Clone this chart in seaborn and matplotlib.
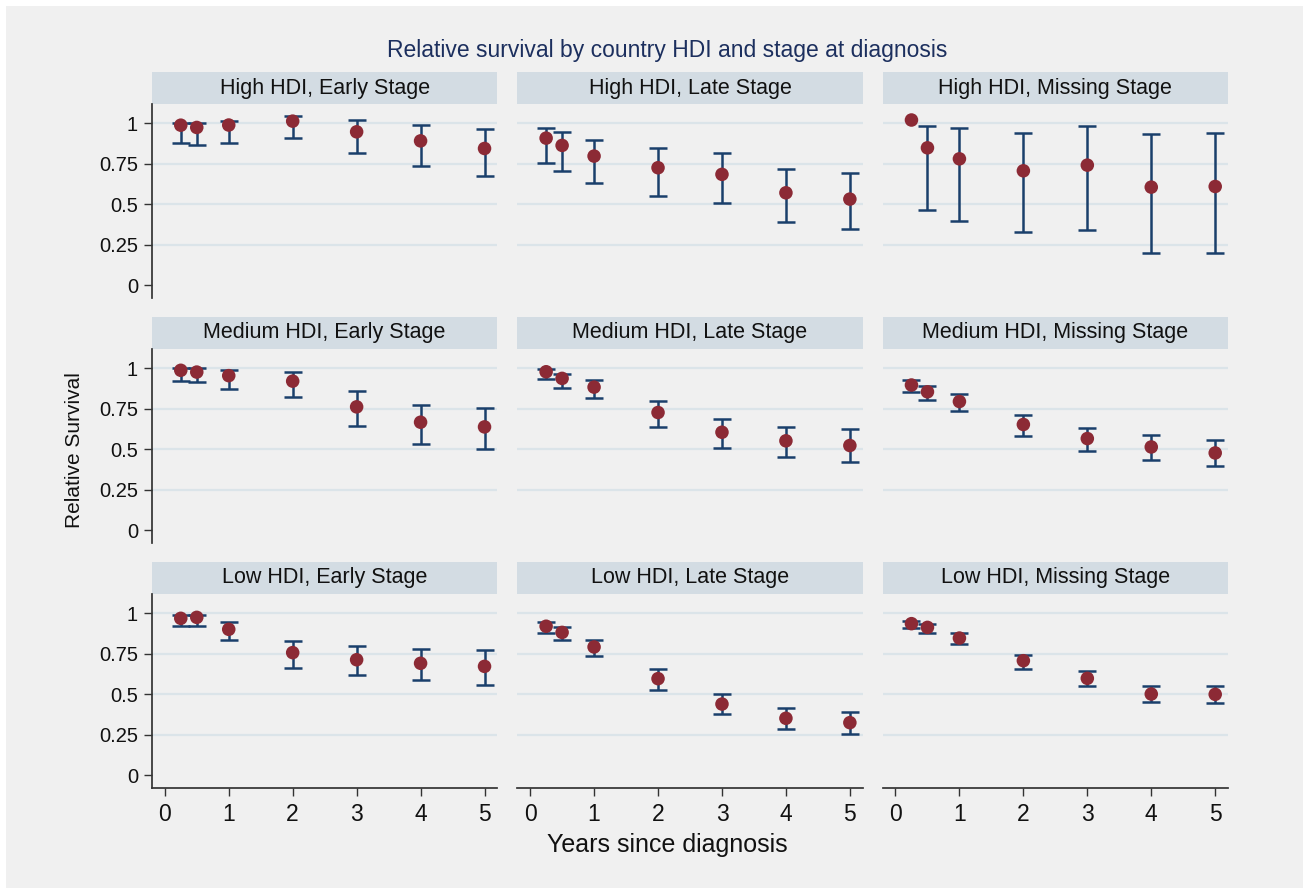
import numpy as np
import pandas as pd
import seaborn as sns
import matplotlib.pyplot as plt
from matplotlib.patches import Rectangle

# Years since diagnosis at which relative survival was estimated
years = [0.25, 0.5, 1, 2, 3, 4, 5]

hdi_levels = ['High', 'Medium', 'Low']
stages = ['Early', 'Late', 'Missing']

# Estimates and 95% CI
est_high_early = [0.989, 0.975, 0.990, 1.014, 0.948, 0.892, 0.845]
lo_high_early = [0.880, 0.867, 0.880, 0.907, 0.814, 0.737, 0.672]
hi_high_early = [1.000, 1.000, 1.016, 1.043, 1.020, 0.990, 0.966]

est_high_late = [0.909, 0.864, 0.798, 0.726, 0.685, 0.571, 0.532]
lo_high_late = [0.757, 0.707, 0.629, 0.553, 0.505, 0.390, 0.348]
hi_high_late = [0.969, 0.944, 0.897, 0.847, 0.814, 0.720, 0.695]

est_high_missing = [1.021, 0.849, 0.781, 0.707, 0.742, 0.606, 0.610]
lo_high_missing = [np.nan, 0.464, 0.398, 0.330, 0.344, 0.200, 0.200]
hi_high_missing = [np.nan, 0.984, 0.971, 0.940, 0.984, 0.934, 0.940]

est_medium_early = [0.988, 0.977, 0.955, 0.921, 0.762, 0.667, 0.638]
lo_medium_early = [0.921, 0.913, 0.874, 0.822, 0.643, 0.533, 0.500]
hi_medium_early = [1.000, 1.000, 0.992, 0.977, 0.857, 0.773, 0.756]

est_medium_late = [0.979, 0.938, 0.884, 0.727, 0.605, 0.552, 0.523]
lo_medium_late = [0.934, 0.878, 0.816, 0.640, 0.510, 0.452, 0.421]
hi_medium_late = [0.994, 0.965, 0.928, 0.798, 0.690, 0.640, 0.624]

est_medium_missing = [0.897, 0.855, 0.795, 0.653, 0.566, 0.514, 0.477]
lo_medium_missing = [0.851, 0.804, 0.736, 0.580, 0.490, 0.436, 0.395]
hi_medium_missing = [0.926, 0.890, 0.841, 0.711, 0.632, 0.589, 0.558]

est_low_early = [0.969, 0.975, 0.901, 0.757, 0.713, 0.691, 0.672]
lo_low_early = [0.922, 0.924, 0.833, 0.664, 0.616, 0.590, 0.557]
hi_low_early = [0.990, 0.990, 0.944, 0.829, 0.796, 0.777, 0.775]

est_low_late = [0.920, 0.882, 0.792, 0.596, 0.439, 0.351, 0.324]
lo_low_late = [0.876, 0.835, 0.736, 0.528, 0.375, 0.282, 0.256]
hi_low_late = [0.944, 0.915, 0.837, 0.656, 0.501, 0.412, 0.390]

est_low_missing = [0.936, 0.913, 0.847, 0.707, 0.598, 0.501, 0.499]
lo_low_missing = [0.907, 0.878, 0.808, 0.658, 0.551, 0.449, 0.445]
hi_low_missing = [0.953, 0.936, 0.878, 0.744, 0.643, 0.548, 0.548]

y_ticks = [0, 0.25, 0.5, 0.75, 1]
y_ticklabels = ['0', '0.25', '0.5', '0.75', '1']
x_ticks = [0, 1, 2, 3, 4, 5]

# Build one long table
series = {
    ('High', 'Early'): (est_high_early, lo_high_early, hi_high_early),
    ('High', 'Late'): (est_high_late, lo_high_late, hi_high_late),
    ('High', 'Missing'): (est_high_missing, lo_high_missing, hi_high_missing),
    ('Medium', 'Early'): (est_medium_early, lo_medium_early, hi_medium_early),
    ('Medium', 'Late'): (est_medium_late, lo_medium_late, hi_medium_late),
    ('Medium', 'Missing'): (est_medium_missing, lo_medium_missing, hi_medium_missing),
    ('Low', 'Early'): (est_low_early, lo_low_early, hi_low_early),
    ('Low', 'Late'): (est_low_late, lo_low_late, hi_low_late),
    ('Low', 'Missing'): (est_low_missing, lo_low_missing, hi_low_missing),
}
frames = []
for (hdi, stage), (est, lo, hi) in series.items():
    frames.append(pd.DataFrame({'HDI': hdi, 'Stage': stage, 'Years': years,
                                'RS': est, 'Lower': lo, 'Upper': hi}))
df = pd.concat(frames, ignore_index=True)

sns.set_theme(style='white')
plt.rcParams['font.family'] = ['Liberation Sans', 'DejaVu Sans']

bg = '#f0f0f0'
strip_color = '#d3dce3'
grid_color = '#dbe4e9'
navy = '#1a3f6b'
maroon = '#8c2a35'

fig, axes = plt.subplots(3, 3, figsize=(13.11, 8.91), dpi=100, sharex=True, sharey=True)
fig.patch.set_facecolor('white')
fig.patches.append(Rectangle((6 / 1311, 3 / 891), 1297 / 1311, 882 / 891,
                             transform=fig.transFigure, facecolor=bg,
                             edgecolor='none', zorder=-10))
fig.subplots_adjust(left=152 / 1311, right=1228 / 1311, top=1 - 104 / 891,
                    bottom=1 - 788 / 891, wspace=0.058, hspace=0.262)

strip_h = 32 / 194.5
for i, hdi in enumerate(hdi_levels):
    for j, stage in enumerate(stages):
        ax = axes[i, j]
        sub = df[(df['HDI'] == hdi) & (df['Stage'] == stage)]
        ax.set_facecolor(bg)
        for y in [0.25, 0.5, 0.75, 1]:
            ax.axhline(y, color=grid_color, lw=1.6, zorder=0)
        yerr = np.vstack([sub['RS'] - sub['Lower'], sub['Upper'] - sub['RS']])
        ax.errorbar(sub['Years'], sub['RS'], yerr=yerr, fmt='none',
                    ecolor=navy, elinewidth=1.8, capsize=6.5, capthick=1.8, zorder=2)
        sns.scatterplot(data=sub, x='Years', y='RS', ax=ax, color=maroon,
                        s=95, edgecolor='none', zorder=3, legend=False)
        ax.set_xlim(-0.2, 5.2)
        ax.set_ylim(-0.08, 1.12)
        ax.set_xticks(x_ticks)
        ax.set_yticks(y_ticks)
        ax.set_yticklabels(y_ticklabels)
        ax.set_xlabel('')
        ax.set_ylabel('')
        for side in ['top', 'right']:
            ax.spines[side].set_visible(False)
        ax.spines['left'].set_visible(j == 0)
        ax.spines['bottom'].set_visible(i == 2)
        ax.spines['left'].set_color('#333333')
        ax.spines['bottom'].set_color('#333333')
        ax.tick_params(axis='y', which='both', left=(j == 0), length=6, width=1,
                       color='#333333', labelsize=14.5, pad=4, labelcolor='#111111')
        ax.tick_params(axis='x', which='both', bottom=(i == 2), length=6, width=1,
                       color='#333333', labelsize=16.5, pad=5, labelcolor='#111111')

        # Stata-style header strip
        ax.add_patch(Rectangle((0, 1), 1, strip_h, transform=ax.transAxes,
                               facecolor=strip_color, edgecolor='none', clip_on=False))
        ax.text(0.5, 1 + strip_h / 2, f'{hdi} HDI, {stage} Stage', transform=ax.transAxes,
                ha='center', va='center', fontsize=15.5, color='#111111')

fig.text(667 / 1311, 1 - 50 / 891, 'Relative survival by country HDI and stage at diagnosis',
         ha='center', va='center', fontsize=16.5, color='#1c2f5e')
fig.text(75 / 1311, 1 - 450 / 891, 'Relative Survival', rotation=90,
         ha='center', va='center', fontsize=15, color='#111111')
fig.text(667 / 1311, 1 - 845 / 891, 'Years since diagnosis',
         ha='center', va='center', fontsize=18, color='#111111')

plt.savefig('out.png', dpi=100, facecolor=fig.get_facecolor())
plt.close()
